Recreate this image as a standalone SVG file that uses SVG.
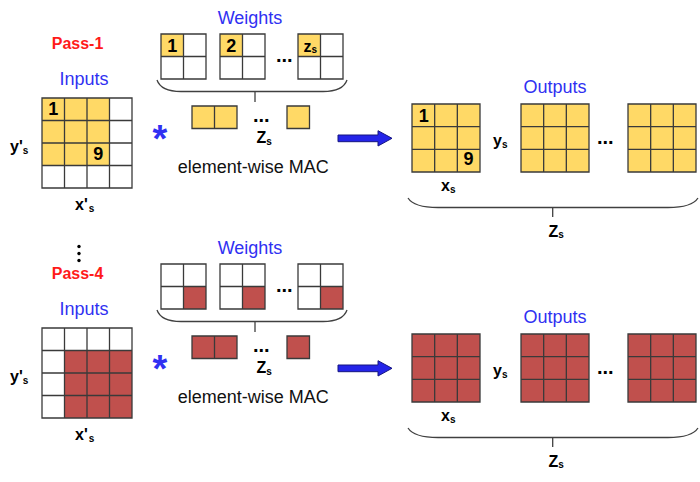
<svg xmlns="http://www.w3.org/2000/svg" width="700" height="482" viewBox="0 0 700 482">
<style>
text{font-family:"Liberation Sans",Arial,sans-serif;}
.pass{fill:#ff1a1a;font-size:16px;font-weight:bold;text-anchor:middle;}
.title{fill:#3030f2;font-size:18px;text-anchor:middle;}
.num{fill:#000;font-size:18px;font-weight:bold;text-anchor:middle;}
.lab{fill:#000;font-size:16px;font-weight:bold;}
.sub{font-size:10px;}
.mac{fill:#111;font-size:18px;text-anchor:middle;}
.dots{fill:#000;font-size:20px;font-weight:bold;}
.star{fill:#3030f2;font-size:38px;font-weight:bold;text-anchor:middle;}
.grid{fill:none;stroke:#3a3a3a;stroke-width:1.3;}
.w{fill:#fff;}
.y{fill:#ffd966;}
.r{fill:#c0504d;}
.brace{fill:none;stroke:#404040;stroke-width:1.3;}
.arrow{fill:#2424e8;stroke:#151580;stroke-width:1;}
.vd{fill:#000;}
</style>

<!-- ============ PASS 1 ============ -->
<g id="pass1">
  <text id="pass1-label" class="pass" x="77.5" y="49">Pass-1</text>

  <g id="pass1-inputs">
    <text class="title" x="84" y="85">Inputs</text>
    <rect class="w" x="42" y="98" width="90" height="90"/>
    <rect class="y" x="42" y="98" width="67.5" height="67.5"/>
    <path class="grid" d="M42,98h90v90h-90z M64.5,98v90 M87,98v90 M109.5,98v90 M42,120.5h90 M42,143h90 M42,165.5h90"/>
    <text class="num" x="53.25" y="115">1</text>
    <text class="num" x="98.25" y="160">9</text>
    <text class="lab" x="10" y="152">y'<tspan class="sub" dy="1.5">s</tspan></text>
    <text class="lab" x="75" y="210">x'<tspan class="sub" dx="1" dy="1.5">s</tspan></text>
  </g>

  <text id="pass1-star" class="star" x="160" y="152">*</text>

  <g id="pass1-weights">
    <text class="title" x="250" y="24">Weights</text>
    <rect class="w" x="161" y="34" width="45" height="45"/>
    <rect class="y" x="161" y="34" width="22.5" height="22.5"/>
    <path class="grid" d="M161,34h45v45h-45z M183.5,34v45 M161,56.5h45"/>
    <text class="num" x="172.25" y="51.5">1</text>
    <rect class="w" x="220" y="34" width="45" height="45"/>
    <rect class="y" x="220" y="34" width="22.5" height="22.5"/>
    <path class="grid" d="M220,34h45v45h-45z M242.5,34v45 M220,56.5h45"/>
    <text class="num" x="231.25" y="51.5">2</text>
    <text class="dots" x="276" y="62">...</text>
    <rect class="w" x="298" y="34" width="45" height="45"/>
    <rect class="y" x="298" y="34" width="22.5" height="22.5"/>
    <path class="grid" d="M298,34h45v45h-45z M320.5,34v45 M298,56.5h45"/>
    <text class="lab" x="303.5" y="51.5">z<tspan class="sub" font-size="9" dy="1">s</tspan></text>
  </g>

  <g id="pass1-mac">
    <rect class="y" x="192" y="106" width="45" height="22.5"/>
    <path class="grid" d="M192,106h45v22.5h-45z M214.5,106v22.5"/>
    <text class="dots" x="253" y="122">...</text>
    <rect class="y" x="287" y="106" width="22.5" height="22.5"/>
    <path class="grid" d="M287,106h22.5v22.5h-22.5z"/>
    <text class="lab" x="256.5" y="143">Z<tspan class="sub" dy="1.5">s</tspan></text>
    <text class="mac" x="253.3" y="173">element-wise MAC</text>
  </g>

  <g id="pass1-outputs">
    <text class="title" x="555" y="92.7">Outputs</text>
    <rect class="y" x="412" y="104" width="68" height="68"/>
    <path class="grid" d="M412,104h68v68h-68z M434.67,104v68 M457.33,104v68 M412,126.67h68 M412,149.33h68"/>
    <text class="num" x="423.7" y="121.7">1</text>
    <text class="num" x="468.5" y="165">9</text>
    <text class="lab" x="493" y="146">y<tspan class="sub" dy="1.5">s</tspan></text>
    <text class="lab" x="441" y="191">x<tspan class="sub" dy="1.5">s</tspan></text>
    <rect class="y" x="521" y="104" width="68" height="68"/>
    <path class="grid" d="M521,104h68v68h-68z M543.67,104v68 M566.33,104v68 M521,126.67h68 M521,149.33h68"/>
    <text class="dots" x="597" y="144">...</text>
    <rect class="y" x="628" y="104" width="68" height="68"/>
    <path class="grid" d="M628,104h68v68h-68z M650.67,104v68 M673.33,104v68 M628,126.67h68 M628,149.33h68"/>
    <text class="lab" x="548.5" y="236.7">Z<tspan class="sub" dy="1.5">s</tspan></text>
  </g>
</g>

<!-- ============ PASS 4 ============ -->
<g id="pass4" transform="translate(0,230)">
  <g id="vdots">
    <circle class="vd" cx="79" cy="16.5" r="1.7"/>
    <circle class="vd" cx="79" cy="23.5" r="1.7"/>
    <circle class="vd" cx="79" cy="30.5" r="1.7"/>
  </g>
  <text id="pass4-label" class="pass" x="77.5" y="49">Pass-4</text>

  <g id="pass4-inputs">
    <text class="title" x="84" y="85">Inputs</text>
    <rect class="w" x="42" y="98" width="90" height="90"/>
    <rect class="r" x="64.5" y="120.5" width="67.5" height="67.5"/>
    <path class="grid" d="M42,98h90v90h-90z M64.5,98v90 M87,98v90 M109.5,98v90 M42,120.5h90 M42,143h90 M42,165.5h90"/>
    <text class="lab" x="10" y="152">y'<tspan class="sub" dy="1.5">s</tspan></text>
    <text class="lab" x="75" y="210">x'<tspan class="sub" dx="1" dy="1.5">s</tspan></text>
  </g>

  <text id="pass4-star" class="star" x="160" y="152">*</text>

  <g id="pass4-weights">
    <text class="title" x="250" y="24">Weights</text>
    <rect class="w" x="161" y="34" width="45" height="45"/>
    <rect class="r" x="183.5" y="56.5" width="22.5" height="22.5"/>
    <path class="grid" d="M161,34h45v45h-45z M183.5,34v45 M161,56.5h45"/>
    <rect class="w" x="220" y="34" width="45" height="45"/>
    <rect class="r" x="242.5" y="56.5" width="22.5" height="22.5"/>
    <path class="grid" d="M220,34h45v45h-45z M242.5,34v45 M220,56.5h45"/>
    <text class="dots" x="276" y="62">...</text>
    <rect class="w" x="298" y="34" width="45" height="45"/>
    <rect class="r" x="320.5" y="56.5" width="22.5" height="22.5"/>
    <path class="grid" d="M298,34h45v45h-45z M320.5,34v45 M298,56.5h45"/>
  </g>

  <g id="pass4-mac">
    <rect class="r" x="192" y="106" width="45" height="22.5"/>
    <path class="grid" d="M192,106h45v22.5h-45z M214.5,106v22.5"/>
    <text class="dots" x="253" y="122">...</text>
    <rect class="r" x="287" y="106" width="22.5" height="22.5"/>
    <path class="grid" d="M287,106h22.5v22.5h-22.5z"/>
    <text class="lab" x="256.5" y="143">Z<tspan class="sub" dy="1.5">s</tspan></text>
    <text class="mac" x="253.3" y="173">element-wise MAC</text>
  </g>

  <g id="pass4-outputs">
    <text class="title" x="555" y="92.7">Outputs</text>
    <rect class="r" x="412" y="104" width="68" height="68"/>
    <path class="grid" d="M412,104h68v68h-68z M434.67,104v68 M457.33,104v68 M412,126.67h68 M412,149.33h68"/>
    <text class="lab" x="493" y="146">y<tspan class="sub" dy="1.5">s</tspan></text>
    <text class="lab" x="441" y="191">x<tspan class="sub" dy="1.5">s</tspan></text>
    <rect class="r" x="521" y="104" width="68" height="68"/>
    <path class="grid" d="M521,104h68v68h-68z M543.67,104v68 M566.33,104v68 M521,126.67h68 M521,149.33h68"/>
    <text class="dots" x="597" y="144">...</text>
    <rect class="r" x="628" y="104" width="68" height="68"/>
    <path class="grid" d="M628,104h68v68h-68z M650.67,104v68 M673.33,104v68 M628,126.67h68 M628,149.33h68"/>
    <text class="lab" x="548.5" y="236.7">Z<tspan class="sub" dy="1.5">s</tspan></text>
  </g>
</g>

<!-- ============ CONNECTORS ============ -->
<g id="connectors">
  <g id="c-pass1">
    <path class="brace" d="M157,80 Q161,91.5 181,91.5 L323,91.5 Q343,91.5 347,80 M255,91.5 V102"/>
    <polygon class="arrow" points="338,135 378,135 378,130.7 392,138.3 378,146 378,141.7 338,141.7"/>
    <path class="brace" d="M408,198 Q414,207.5 438,207.5 L668,207.5 Q692,207.5 698,198 M552.7,207.5 V217"/>
  </g>
  <g id="c-pass4" transform="translate(0,230)">
    <path class="brace" d="M157,80 Q161,91.5 181,91.5 L323,91.5 Q343,91.5 347,80 M255,91.5 V102"/>
    <polygon class="arrow" points="338,135 378,135 378,130.7 392,138.3 378,146 378,141.7 338,141.7"/>
    <path class="brace" d="M408,198 Q414,207.5 438,207.5 L668,207.5 Q692,207.5 698,198 M552.7,207.5 V217"/>
  </g>
</g>
</svg>
